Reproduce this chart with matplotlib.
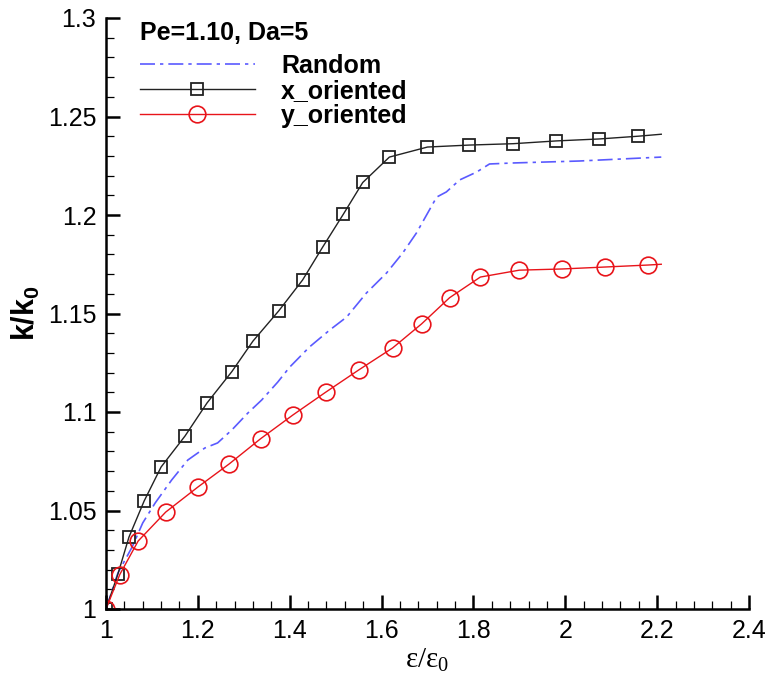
import numpy as np
import matplotlib
matplotlib.use('Agg')
import matplotlib.pyplot as plt
from matplotlib.ticker import MultipleLocator, FuncFormatter

# x_oriented (black squares)
x_ori_x = [1.0, 1.026, 1.050, 1.083, 1.120, 1.172, 1.220, 1.274, 1.320, 1.376, 1.428,
           1.472, 1.517, 1.559, 1.617, 1.700, 1.791, 1.887, 1.980, 2.074, 2.159, 2.209]
x_ori_y = [1.0, 1.0178, 1.0365, 1.0548, 1.0721, 1.0878, 1.1046, 1.1205, 1.136, 1.1513, 1.167,
           1.1838, 1.2005, 1.2165, 1.2294, 1.2345, 1.2355, 1.2362, 1.2376, 1.2386, 1.2400, 1.2410]

# y_oriented (red circles)
y_ori_x = [1.0, 1.030, 1.070, 1.130, 1.200, 1.268, 1.337, 1.407, 1.478, 1.550, 1.624,
           1.687, 1.748, 1.815, 1.900, 1.993, 2.087, 2.180, 2.209]
y_ori_y = [1.0, 1.0175, 1.0345, 1.0492, 1.0619, 1.0736, 1.0865, 1.0985, 1.1100, 1.1213, 1.1325,
           1.1447, 1.158, 1.1685, 1.172, 1.1726, 1.1736, 1.1746, 1.1750]

# Random (blue dash-dot)
rnd_x = [1.0, 1.026, 1.057, 1.080, 1.107, 1.143, 1.178, 1.215, 1.243, 1.274, 1.309, 1.339,
         1.374, 1.40, 1.443, 1.487, 1.524, 1.567, 1.611, 1.646, 1.676, 1.704, 1.720, 1.741,
         1.770, 1.807, 1.835, 1.885, 2.03, 2.209]
rnd_y = [1.0, 1.0183, 1.0315, 1.0437, 1.0538, 1.0655, 1.0756, 1.0817, 1.0843, 1.0909, 1.0995,
         1.1061, 1.1152, 1.1228, 1.133, 1.1416, 1.1482, 1.1604, 1.1706, 1.1807, 1.1909, 1.2025,
         1.2091, 1.2117, 1.2178, 1.2218, 1.2259, 1.2264, 1.2274, 1.2294]

plt.rcParams['font.family'] = ['Liberation Sans', 'DejaVu Sans']
plt.rcParams['mathtext.fontset'] = 'custom'
plt.rcParams['mathtext.rm'] = 'Liberation Serif'
plt.rcParams['mathtext.it'] = 'Liberation Serif'
plt.rcParams['mathtext.bf'] = 'Liberation Sans:bold'

fig = plt.figure(figsize=(7.72, 6.79), dpi=100)
ax = fig.add_axes([106/772, 1 - 609/679, (749 - 106)/772, (609 - 18)/679])

blue = '#5a5aff'
black = '#222222'
red = '#e8141a'

ax.plot(rnd_x, rnd_y, color=blue, lw=1.2, dashes=(9, 3, 2, 3))
ax.plot(x_ori_x, x_ori_y, color=black, lw=1.0)
ax.plot(x_ori_x[:-1], x_ori_y[:-1], ls='none', marker='s', ms=9,
        mfc='none', mec=black, mew=1.3)
ax.plot(y_ori_x, y_ori_y, color=red, lw=1.0)
ax.plot(y_ori_x[:-1], y_ori_y[:-1], ls='none', marker='o', ms=12,
        mfc='none', mec=red, mew=1.2)

# legend proxies
h_r, = ax.plot([], [], color=blue, lw=1.2, dashes=(9, 3, 2, 3))
h_x, = ax.plot([], [], color=black, lw=1.0, marker='s', ms=9, mfc='none', mew=1.3)
h_y, = ax.plot([], [], color=red, lw=1.0, marker='o', ms=12, mfc='none', mew=1.2)
leg = ax.legend([h_r, h_x, h_y], ['Random', 'x_oriented', 'y_oriented'],
                title='Pe=1.10, Da=5', loc='upper left', bbox_to_anchor=(0.045, 1.003),
                frameon=False, handlelength=4.6, handletextpad=1.05, labelspacing=0.05,
                borderaxespad=0.0, borderpad=0.2, prop={'size': 18, 'weight': 'bold'},
                title_fontproperties={'size': 18, 'weight': 'bold'})
leg._legend_box.align = 'left'
leg._legend_box.sep = 6

ax.set_xlim(1, 2.4)
ax.set_ylim(1, 1.3)
ax.xaxis.set_major_locator(MultipleLocator(0.2))
ax.xaxis.set_minor_locator(MultipleLocator(0.04))
ax.yaxis.set_major_locator(MultipleLocator(0.05))
ax.yaxis.set_minor_locator(MultipleLocator(0.01))
fmt = FuncFormatter(lambda v, p: ('%.2f' % v).rstrip('0').rstrip('.'))
ax.xaxis.set_major_formatter(fmt)
ax.yaxis.set_major_formatter(fmt)

for s in ['top', 'right']:
    ax.spines[s].set_visible(False)
for s in ['left', 'bottom']:
    ax.spines[s].set_linewidth(1.8)
ax.tick_params(which='major', direction='in', length=10, width=1.8, labelsize=18, pad=7)
ax.tick_params(which='minor', direction='in', length=6, width=0.9)

ax.set_xlabel(r'$\mathrm{\varepsilon/\varepsilon_0}$', fontsize=21, labelpad=2)
ax.set_ylabel(r'$\mathbf{k/k_0}$', fontsize=22, labelpad=4)

fig.savefig('out.png', dpi=100)
